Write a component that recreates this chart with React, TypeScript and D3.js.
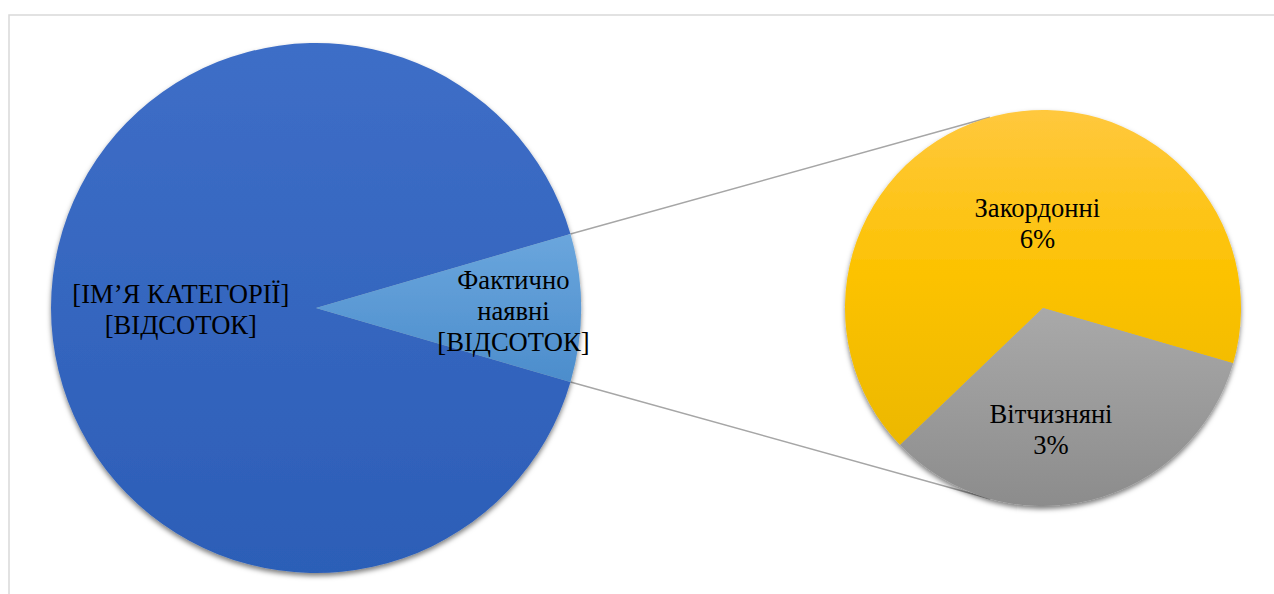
import React from "react";
import * as d3 from "d3";

const mainCategories = ["[ІМ’Я КАТЕГОРІЇ]", "Фактично наявні"];
const mainValues = [91, 9];
const mainLabelLines = [["[ІМ’Я КАТЕГОРІЇ]", "[ВІДСОТОК]"], ["Фактично", "наявні", "[ВІДСОТОК]"]];

const subCategories = ["Закордонні", "Вітчизняні"];
const subValues = [6, 3];
const subLabelLines = [["Закордонні", "6%"], ["Вітчизняні", "3%"]];

const W = 1274;
const H = 594;
const FONT = "'Liberation Serif', 'Times New Roman', serif";
const FS = 26.6;
const LH = 31;

const deg = (d: number) => (d * Math.PI) / 180;

export default function App() {
  const mainC = { x: 316, y: 308 };
  const mainR = 265;
  const subC = { x: 1043, y: 308 };
  const subR = 198;

  const total = d3.sum(mainValues);
  const splitSpan = (mainValues[1] / total) * 360;
  const mainStart = 90 + splitSpan / 2;
  const mainPie = d3.pie<number>().sort(null).startAngle(deg(mainStart)).endAngle(deg(mainStart + 360));
  const mainArcs = mainPie(mainValues);

  const subStart = 226.2;
  const subPie = d3.pie<number>().sort(null).startAngle(deg(subStart)).endAngle(deg(subStart + 360));
  const subArcs = subPie(subValues);

  const arcMain = d3.arc<d3.PieArcDatum<number>>().innerRadius(0).outerRadius(mainR);
  const arcSub = d3.arc<d3.PieArcDatum<number>>().innerRadius(0).outerRadius(subR);

  const polar = (c: { x: number; y: number }, r: number, a: number) => ({
    x: c.x + r * Math.sin(a),
    y: c.y - r * Math.cos(a),
  });

  const split = mainArcs[1];
  const pTop = polar(mainC, mainR, split.startAngle);
  const pBot = polar(mainC, mainR, split.endAngle);

  const tangent = (p: { x: number; y: number }, sign: number) => {
    const dx = p.x - subC.x;
    const dy = p.y - subC.y;
    const d = Math.hypot(dx, dy);
    const base = Math.atan2(dy, dx);
    const th = Math.acos(subR / d);
    const a = base + sign * th;
    return { x: subC.x + subR * Math.cos(a), y: subC.y + subR * Math.sin(a) };
  };
  const tTop = tangent(pTop, 1);
  const tBot = tangent(pBot, -1);

  const mainLabelR = [0.51, 0.745];
  const subLabelR = [0.43, 0.613];
  const subLabelShift = deg(10);

  const mainFills = ["url(#gMain)", "url(#gSplit)"];
  const subFills = ["url(#gYellow)", "url(#gGray)"];

  const renderLabel = (x: number, y: number, lines: string[], key: string) => {
    const n = lines.length;
    return (
      <text key={key} x={x} y={y} textAnchor="middle" fontFamily={FONT} fontSize={FS} fill="#000">
        {lines.map((l, i) => (
          <tspan key={i} x={x} y={y + (i - (n - 1) / 2) * LH} dy="0.35em">
            {l}
          </tspan>
        ))}
      </text>
    );
  };

  return (
    <svg width={W} height={H} style={{ position: "absolute", left: 0, top: 0 }}>
      <defs>
        <linearGradient id="gMain" x1="0" y1="0" x2="0" y2="1">
          <stop offset="0" stopColor="#3E6EC7" />
          <stop offset="1" stopColor="#2C5EB7" />
        </linearGradient>
        <linearGradient id="gSplit" x1="0" y1="0" x2="0" y2="1">
          <stop offset="0" stopColor="#6AA6DD" />
          <stop offset="1" stopColor="#4C8DCC" />
        </linearGradient>
        <linearGradient id="gYellow" x1="0" y1="0" x2="0" y2="1">
          <stop offset="0" stopColor="#FFC83E" />
          <stop offset="0.5" stopColor="#FCC200" />
          <stop offset="1" stopColor="#ECB800" />
        </linearGradient>
        <linearGradient id="gGray" x1="0" y1="0" x2="0" y2="1">
          <stop offset="0" stopColor="#A9A9A9" />
          <stop offset="1" stopColor="#8C8C8C" />
        </linearGradient>
        <filter id="shadow" x="-10%" y="-10%" width="120%" height="120%">
          <feDropShadow dx="0" dy="3" stdDeviation="2.5" floodColor="#000" floodOpacity="0.5" />
        </filter>
      </defs>
      <rect x={9} y={15} width={W + 20} height={H + 20} fill="#fff" stroke="#d9d9d9" strokeWidth={1.5} />
      <line x1={pTop.x} y1={pTop.y} x2={tTop.x} y2={tTop.y} stroke="#a6a6a6" strokeWidth={1.5} />
      <line x1={pBot.x} y1={pBot.y} x2={tBot.x} y2={tBot.y} stroke="#a6a6a6" strokeWidth={1.5} />
      <g transform={`translate(${mainC.x},${mainC.y})`} filter="url(#shadow)">
        {mainArcs.map((a, i) => (
          <path key={mainCategories[i]} d={arcMain(a) || ""} fill={mainFills[i]} />
        ))}
      </g>
      <g transform={`translate(${subC.x},${subC.y})`} filter="url(#shadow)">
        {subArcs.map((a, i) => (
          <path key={subCategories[i]} d={arcSub(a) || ""} fill={subFills[i]} />
        ))}
      </g>
      {mainArcs.map((a, i) => {
        const mid = (a.startAngle + a.endAngle) / 2;
        const p = polar(mainC, mainR * mainLabelR[i], mid);
        return renderLabel(p.x, p.y + (i === 1 ? 3 : 1), mainLabelLines[i], "m" + i);
      })}
      {subArcs.map((a, i) => {
        const mid = (a.startAngle + a.endAngle) / 2 + subLabelShift;
        const p = polar(subC, subR * subLabelR[i], mid);
        return renderLabel(p.x, p.y, subLabelLines[i], "s" + i);
      })}
    </svg>
  );
}
